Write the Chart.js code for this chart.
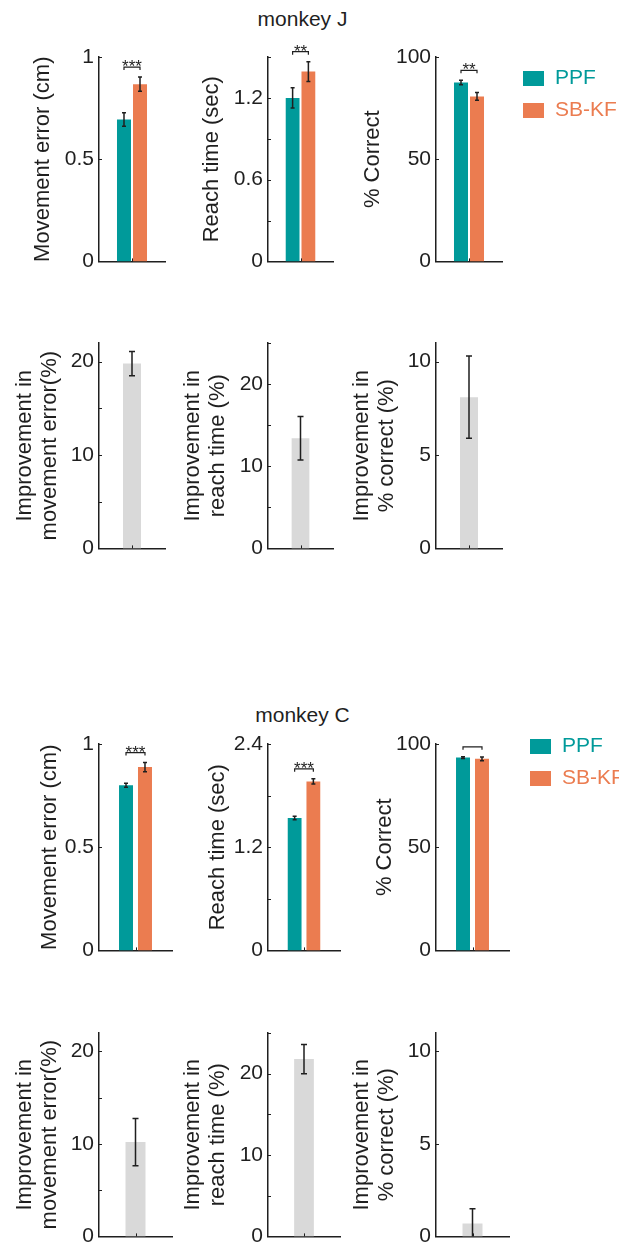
<!DOCTYPE html>
<html>
<head>
<meta charset="utf-8">
<script src="https://cdn.jsdelivr.net/npm/chart.js@4.4.1/dist/chart.umd.min.js"></script>
<style>
  html, body { margin: 0; padding: 0; background: #fff; }
  body { width: 619px; height: 1247px; position: relative; overflow: hidden;
         font-family: "Liberation Sans", Arial, sans-serif; }
  canvas { position: absolute; }
  .monkey { position: absolute; left: 0; width: 605px; text-align: center;
            font-size: 21px; line-height: 21px; color: #1f1f1f; }
</style>
</head>
<body>
<div class="monkey" style="top:8px">monkey J</div>
<div class="monkey" style="top:704px">monkey C</div>
<script>
// ---- data ----
const categories = [''];
const seriesNames = ['PPF', 'SB-KF'];
const metricTitles = ['Movement error (cm)', 'Reach time (sec)', '% Correct'];
const improvementTitles = [
  ['Improvement in', 'movement error(%)'],
  ['Improvement in', 'reach time (%)'],
  ['Improvement in', '% correct (%)']
];

// monkey J
const ppfJ = [0.694, 1.20, 87.5];
const ppfErrJ = [0.033, 0.075, 1.1];
const sbkfJ = [0.867, 1.393, 80.7];
const sbkfErrJ = [0.035, 0.073, 1.9];
const sigJ = ['***', '**', '**'];
const improvJ = [19.8, 13.4, 8.1];
const improvErrJ = [1.3, 2.65, 2.2];

// monkey C
const ppfC = [0.80, 1.54, 93.4];
const ppfErrC = [0.01, 0.02, 0.4];
const sbkfC = [0.888, 1.965, 92.8];
const sbkfErrC = [0.022, 0.03, 0.9];
const sigC = ['***', '***', ''];
const improvC = [10.2, 21.8, 0.7];
const improvErrC = [2.55, 1.8, 0.8];

// y-axis ranges: max, tick step, labelled step
const metricMaxJ = [1, 1.5, 100];
const metricStepJ = [0.5, 0.3, 50];
const metricLabelStepJ = [0.5, 0.6, 50];
const metricMaxC = [1, 2.4, 100];
const metricStepC = [0.5, 0.6, 50];
const metricLabelStepC = [0.5, 1.2, 50];
const improvMax = [22, 25, 11];
const improvStep = [5, 5, 5];
const improvLabelStep = [10, 10, 5];

// ---- styling ----
const FONT = '"Liberation Sans", Arial, sans-serif';
const INK = '#1f1f1f';
const TEAL = '#009a9a';
const ORANGE = '#eb7c50';
const GREY = '#d9d9d9';

// page layout of the twelve panels
const axisX = [99, 268, 436];
const rowsLayout = [
  { top: 57,   bottom: 263,  right: [165, 333, 502], W: [69, 69, 76], cp: 0.485, bp: 0.875, cap: 2 },
  { top: 343,  bottom: 550,  right: [165, 333, 502], W: [87, 88, 87], cp: 0.273, bp: 1,     cap: 3 },
  { top: 744,  bottom: 952,  right: [172, 340, 509], W: [62, 63, 64], cp: 0.52,  bp: 0.737, cap: 2 },
  { top: 1033, bottom: 1238, right: [172, 340, 509], W: [87, 88, 87], cp: 0.274, bp: 1,     cap: 3 }
];
const PAD_TOP = 30, PAD_BOTTOM = 16;

const isStep = (v, s) => Math.abs(v / s - Math.round(v / s)) < 1e-6;

// error bars, significance brackets, inward ticks and the side legend
const panelMarks = {
  id: 'panelMarks',
  afterDatasetsDraw(chart, args, opts) {
    const ctx = chart.ctx;
    const y = chart.scales.y;
    const tops = [];
    ctx.save();
    ctx.strokeStyle = INK;
    ctx.lineWidth = 1.5;
    chart.data.datasets.forEach((ds, di) => {
      const meta = chart.getDatasetMeta(di);
      ds.data.forEach((v, i) => {
        const e = ds.errors[i];
        const bar = meta.data[i];
        const lo = Math.max(v - e, y.min);
        const yTop = y.getPixelForValue(v + e);
        const yBot = y.getPixelForValue(lo);
        const cap = opts.cap;
        ctx.beginPath();
        ctx.moveTo(bar.x, yTop); ctx.lineTo(bar.x, yBot);
        ctx.moveTo(bar.x - cap, yTop); ctx.lineTo(bar.x + cap, yTop);
        if (v - e >= y.min) { ctx.moveTo(bar.x - cap, yBot); ctx.lineTo(bar.x + cap, yBot); }
        ctx.stroke();
        tops.push({ x: bar.x, y: yTop });
      });
    });
    if (typeof opts.sig === 'string' && tops.length === 2) {
      const yb = Math.min(tops[0].y, tops[1].y) - 10;
      ctx.lineWidth = 1.2;
      ctx.beginPath();
      ctx.moveTo(tops[0].x, yb + 3); ctx.lineTo(tops[0].x, yb);
      ctx.lineTo(tops[1].x, yb); ctx.lineTo(tops[1].x, yb + 3);
      ctx.stroke();
      if (opts.sig) {
        ctx.fillStyle = INK;
        ctx.font = '17px ' + FONT;
        ctx.textAlign = 'center';
        ctx.textBaseline = 'alphabetic';
        ctx.fillText(opts.sig, (tops[0].x + tops[1].x) / 2, yb + 5);
      }
    }
    ctx.restore();
  },
  afterDraw(chart, args, opts) {
    const ctx = chart.ctx;
    const { left, right, top, bottom } = chart.chartArea;
    const y = chart.scales.y;
    const x = chart.scales.x;
    ctx.save();
    ctx.strokeStyle = INK;
    ctx.lineWidth = 1;
    ctx.beginPath();
    y.ticks.forEach(t => {
      if (t.value <= y.min) return;
      const py = Math.round(y.getPixelForValue(t.value)) + 0.5;
      ctx.moveTo(left, py); ctx.lineTo(left + 3, py);
    });
    const px = Math.round(x.getPixelForValue(0)) + 0.5;
    ctx.moveTo(px, bottom); ctx.lineTo(px, bottom - 3);
    ctx.stroke();
    if (opts.legend) {
      ctx.font = '21px ' + FONT;
      ctx.textAlign = 'left';
      ctx.textBaseline = 'middle';
      chart.data.datasets.forEach((ds, i) => {
        const bx = right + opts.legend.dx;
        const by = top + opts.legend.dy + i * 32;
        ctx.fillStyle = ds.backgroundColor;
        ctx.fillRect(bx, by, 21, 15);
        ctx.fillText(ds.label, bx + 32, by + 7);
      });
    }
    ctx.restore();
  }
};
Chart.register(panelMarks);

function makePanel(row, col, cfg) {
  const L = rowsLayout[row];
  const W = L.W[col];
  const padRight = cfg.legend ? 619 - L.right[col] : 8;
  const canvas = document.createElement('canvas');
  const width = (L.right[col] - axisX[col]) + W + padRight;
  const height = PAD_TOP + (L.bottom - L.top) + PAD_BOTTOM;
  canvas.width = width;
  canvas.height = height;
  canvas.style.left = (axisX[col] - W) + 'px';
  canvas.style.top = (L.top - PAD_TOP) + 'px';
  canvas.style.width = width + 'px';
  canvas.style.height = height + 'px';
  document.body.appendChild(canvas);

  new Chart(canvas, {
    type: 'bar',
    data: {
      labels: categories,
      datasets: cfg.datasets.map(d => Object.assign({
        barPercentage: L.bp,
        categoryPercentage: L.cp,
        borderWidth: 0
      }, d))
    },
    options: {
      responsive: false,
      animation: false,
      devicePixelRatio: 1,
      events: [],
      layout: { padding: { top: PAD_TOP, bottom: PAD_BOTTOM, left: 0, right: padRight } },
      plugins: {
        legend: { display: false },
        tooltip: { enabled: false },
        panelMarks: { cap: L.cap, sig: cfg.sig, legend: cfg.legend || null }
      },
      scales: {
        x: {
          ticks: { display: false },
          grid: { display: false, drawTicks: false },
          border: { display: true, color: INK, width: 1.5 },
          afterFit: s => { s.height = 0; }
        },
        y: {
          min: 0,
          max: cfg.max,
          ticks: {
            stepSize: cfg.step,
            includeBounds: false,
            padding: 5,
            color: INK,
            font: { family: FONT, size: 21 },
            callback: v => (isStep(v, cfg.labelStep) ? String(v) : '')
          },
          grid: { display: false, drawTicks: false },
          border: { display: true, color: INK, width: 1.5 },
          title: {
            display: true,
            text: cfg.title,
            color: INK,
            padding: 0,
            font: { family: FONT, size: 22, lineHeight: 1.15 }
          },
          afterFit: s => { s.width = W; }
        }
      }
    }
  });
}

const monkeys = [
  { ppf: ppfJ, ppfErr: ppfErrJ, sbkf: sbkfJ, sbkfErr: sbkfErrJ, sig: sigJ,
    imp: improvJ, impErr: improvErrJ, max: metricMaxJ, step: metricStepJ, labelStep: metricLabelStepJ,
    legendDy: 14 },
  { ppf: ppfC, ppfErr: ppfErrC, sbkf: sbkfC, sbkfErr: sbkfErrC, sig: sigC,
    imp: improvC, impErr: improvErrC, max: metricMaxC, step: metricStepC, labelStep: metricLabelStepC,
    legendDy: -5 }
];

monkeys.forEach((m, k) => {
  for (let c = 0; c < 3; c++) {
    makePanel(2 * k, c, {
      datasets: [
        { label: seriesNames[0], data: [m.ppf[c]], errors: [m.ppfErr[c]], backgroundColor: TEAL },
        { label: seriesNames[1], data: [m.sbkf[c]], errors: [m.sbkfErr[c]], backgroundColor: ORANGE }
      ],
      max: m.max[c], step: m.step[c], labelStep: m.labelStep[c],
      title: metricTitles[c],
      sig: m.sig[c],
      legend: c === 2 ? { dx: 21, dy: m.legendDy } : null
    });
    makePanel(2 * k + 1, c, {
      datasets: [
        { label: 'PPF vs SB-KF', data: [m.imp[c]], errors: [m.impErr[c]], backgroundColor: GREY }
      ],
      max: improvMax[c], step: improvStep[c], labelStep: improvLabelStep[c],
      title: improvementTitles[c],
      sig: null
    });
  }
});
</script>
</body>
</html>
